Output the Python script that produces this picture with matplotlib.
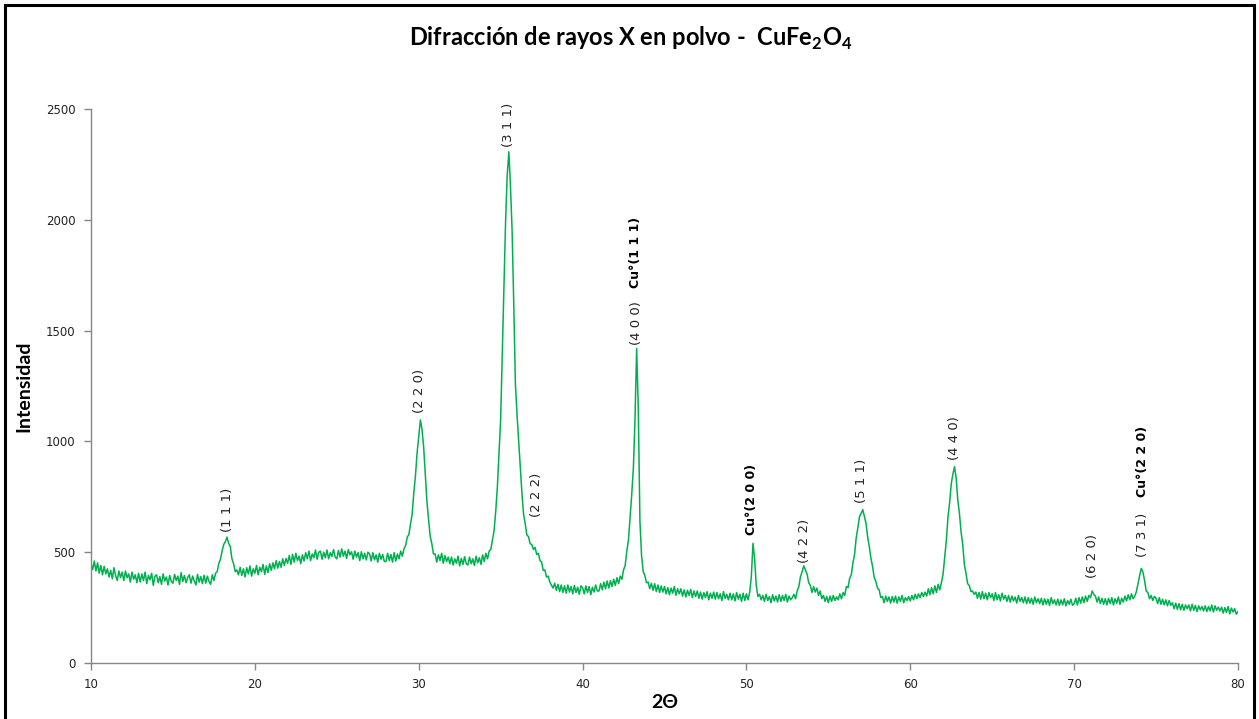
import numpy as np
import matplotlib
matplotlib.use("Agg")
import matplotlib.pyplot as plt
from matplotlib.patches import Rectangle

plt.rcParams["font.family"] = ["DejaVu Sans"]
plt.rcParams["mathtext.fontset"] = "custom"
plt.rcParams["mathtext.rm"] = "Lato"
plt.rcParams["mathtext.bf"] = "Lato:bold"

# --- scan: 2-theta from 10 to 80 deg, 0.1 deg step ---
two_theta = np.round(np.arange(10.0, 80.05, 0.1), 1)

intensity = [
    448, 422, 460, 415, 452, 405, 440, 398, 436, 402,       # 10
    425, 388, 418, 380, 430, 395, 372, 415, 385, 410,       # 11
    372, 415, 385, 402, 365, 410, 378, 398, 362, 405,       # 12
    365, 402, 372, 410, 358, 395, 375, 405, 350, 392,       # 13
    398, 362, 390, 355, 402, 370, 388, 352, 395, 368,       # 14
    360, 400, 372, 392, 355, 408, 368, 395, 362, 386,       # 15
    398, 360, 392, 370, 352, 400, 365, 390, 358, 396,       # 16
    360, 392, 368, 355, 398, 372, 405, 412, 450, 468,       # 17
    505, 535, 548, 568, 540, 525, 470, 448, 412, 420,       # 18
    398, 432, 395, 425, 388, 430, 402, 438, 392, 425,       # 19
    405, 440, 398, 432, 412, 445, 400, 438, 408, 448,       # 20
    418, 452, 425, 462, 428, 458, 432, 470, 440, 472,       # 21
    450, 485, 445, 490, 455, 495, 462, 482, 448, 488,       # 22
    460, 498, 470, 505, 462, 492, 475, 510, 468, 500,       # 23
    505, 468, 500, 475, 510, 470, 498, 480, 512, 478,       # 24
    470, 508, 478, 515, 482, 505, 472, 512, 488, 502,       # 25
    468, 505, 478, 498, 462, 502, 470, 495, 465, 500,       # 26
    492, 460, 498, 465, 488, 455, 495, 468, 490, 458,       # 27
    458, 495, 462, 490, 455, 498, 460, 492, 470, 505,       # 28
    482, 515, 530, 568, 580, 628, 672, 768, 845, 948,       # 29
    1020, 1097, 1055, 975, 850, 730, 648, 572, 538, 492,    # 30
    492, 455, 488, 462, 495, 450, 485, 458, 478, 448,       # 31
    478, 442, 470, 450, 482, 438, 472, 445, 480, 448,       # 32
    442, 478, 448, 470, 440, 482, 452, 475, 445, 488,       # 33
    458, 495, 470, 505, 512, 555, 598, 685, 795, 945,       # 34
    1100, 1400, 1720, 1990, 2200, 2307, 2150, 1950, 1620, 1260,  # 35
    1120, 1000, 880, 765, 670, 628, 578, 570, 538, 535,     # 36
    512, 522, 490, 495, 462, 455, 418, 420, 388, 392,       # 37
    365, 352, 338, 360, 328, 355, 322, 352, 318, 348,       # 38
    315, 352, 320, 345, 312, 350, 318, 342, 310, 348,       # 39
    340, 312, 348, 318, 345, 308, 342, 320, 352, 325,       # 40
    325, 358, 330, 365, 335, 370, 338, 372, 345, 378,       # 41
    350, 385, 358, 392, 378, 420, 440, 505, 555, 655,       # 42
    760, 880, 1100, 1420, 1150, 640, 485, 412, 395, 362,    # 43
    365, 335, 360, 328, 358, 322, 352, 318, 348, 320,       # 44
    345, 312, 340, 308, 338, 315, 345, 305, 335, 312,       # 45
    335, 302, 330, 298, 328, 305, 332, 295, 325, 300,       # 46
    325, 292, 320, 288, 318, 295, 322, 285, 315, 292,       # 47
    320, 288, 318, 290, 312, 282, 322, 292, 310, 285,       # 48
    315, 285, 312, 280, 318, 288, 310, 278, 315, 282,       # 49
    312, 285, 320, 390, 540, 470, 350, 300, 310, 285,       # 50
    305, 278, 310, 282, 300, 272, 308, 280, 302, 275,       # 51
    308, 278, 305, 282, 310, 275, 302, 285, 295, 310,       # 52
    290, 325, 345, 390, 412, 438, 420, 402, 362, 350,       # 53
    318, 345, 320, 338, 305, 325, 290, 305, 278, 300,       # 54
    272, 302, 278, 305, 282, 298, 285, 312, 290, 318,       # 55
    305, 345, 340, 382, 398, 452, 490, 565, 610, 660,       # 56
    675, 692, 662, 630, 568, 525, 472, 435, 385, 368,       # 57
    338, 330, 295, 300, 272, 302, 278, 298, 270, 300,       # 58
    275, 302, 270, 298, 278, 305, 272, 295, 282, 300,       # 59
    280, 305, 285, 310, 290, 312, 295, 318, 300, 320,       # 60
    302, 335, 308, 340, 312, 348, 318, 355, 330, 362,       # 61
    400, 478, 552, 658, 722, 808, 852, 886, 835, 735,       # 62
    675, 592, 535, 445, 405, 358, 350, 322, 325, 310,       # 63
    320, 292, 318, 288, 322, 290, 315, 285, 318, 295,       # 64
    312, 282, 318, 285, 308, 280, 315, 288, 305, 278,       # 65
    305, 275, 302, 280, 298, 270, 305, 278, 295, 272,       # 66
    298, 268, 295, 270, 292, 265, 298, 272, 290, 268,       # 67
    292, 262, 290, 265, 288, 260, 295, 268, 285, 262,       # 68
    288, 260, 285, 262, 290, 258, 282, 265, 288, 260,       # 69
    268, 292, 262, 295, 270, 298, 272, 302, 278, 305,       # 70
    295, 325, 310, 302, 275, 298, 268, 292, 265, 290,       # 71
    262, 292, 268, 295, 262, 290, 270, 298, 265, 292,       # 72
    275, 302, 280, 308, 285, 312, 290, 302, 322, 358,       # 73
    395, 427, 410, 372, 325, 318, 290, 305, 282, 300,       # 74
    292, 268, 295, 265, 288, 262, 285, 258, 282, 260,       # 75
    272, 245, 270, 242, 268, 240, 265, 238, 262, 245,       # 76
    262, 235, 265, 238, 260, 232, 258, 240, 255, 235,       # 77
    258, 232, 255, 235, 262, 230, 258, 238, 252, 235,       # 78
    252, 225, 250, 228, 255, 222, 248, 230, 245, 220,       # 79
    232,                                                    # 80
]

# Miller indices of the spinel reflections (and metallic Cu)
hkl_labels = ["(1 1 1)", "(2 2 0)", "(3 1 1)", "(2 2 2)", "(4 0 0)", "(4 2 2)",
              "(5 1 1)", "(4 4 0)", "(6 2 0)", "(7 3 1)"]
hkl_pos = [18.3, 30.07, 35.5, 37.2, 43.3, 53.56, 57.04, 62.7, 71.13, 74.2]
hkl_base = [591, 1128, 2329, 659, 1435, 451, 722, 916, 384, 478]

cu_labels = ["Cu°(1 1 1)", "Cu°(2 0 0)", "Cu°(2 2 0)"]
cu_pos = [43.25, 50.33, 74.2]
cu_base = [1692, 578, 749]

GREEN = "#00B050"
AXIS_GREY = "#868686"

fig = plt.figure(figsize=(12.59, 7.19), dpi=100, facecolor="white")
ax = fig.add_axes([0.0723, 0.0779, 0.9110, 0.7705])

ax.plot(two_theta, intensity, color=GREEN, lw=1.1)

ax.set_xlim(10, 80)
ax.set_ylim(0, 2500)
ax.set_xticks(np.arange(10, 81, 10))
ax.set_yticks(np.arange(0, 2501, 500))
for s in ("top", "right"):
    ax.spines[s].set_visible(False)
for s in ("left", "bottom"):
    ax.spines[s].set_color(AXIS_GREY)
    ax.spines[s].set_linewidth(1.0)
ax.tick_params(direction="out", length=5, width=1.0, color=AXIS_GREY,
               labelsize=8.5, labelcolor="#222222", pad=6)

ax.set_xlabel("2Θ", fontsize=14, fontweight="bold", family=["Lato", "DejaVu Sans"],
              labelpad=2)
ax.set_ylabel("Intensidad", fontsize=14, fontweight="bold", family=["Lato", "DejaVu Sans"],
              labelpad=10)

for lab, x, y in zip(hkl_labels, hkl_pos, hkl_base):
    ax.text(x, y, lab, rotation=90, ha="center", va="bottom", fontsize=9.5,
            color="#222222")
for lab, x, y in zip(cu_labels, cu_pos, cu_base):
    ax.text(x, y, lab, rotation=90, ha="center", va="bottom", fontsize=9,
            fontweight="bold", color="black")

fig.text(0.501, 0.947, r"Difracción de rayos X en polvo -  CuFe$_\mathbf{2}$O$_\mathbf{4}$",
         ha="center", va="center", fontsize=17, fontweight="bold",
         family=["Lato", "DejaVu Sans"])

# chart frame
fig.add_artist(Rectangle((0.004, -0.02), 0.992, 1.013, transform=fig.transFigure,
                         fill=False, edgecolor="black", lw=2.2, clip_on=False))

fig.savefig("out.png", dpi=100, facecolor="white")
